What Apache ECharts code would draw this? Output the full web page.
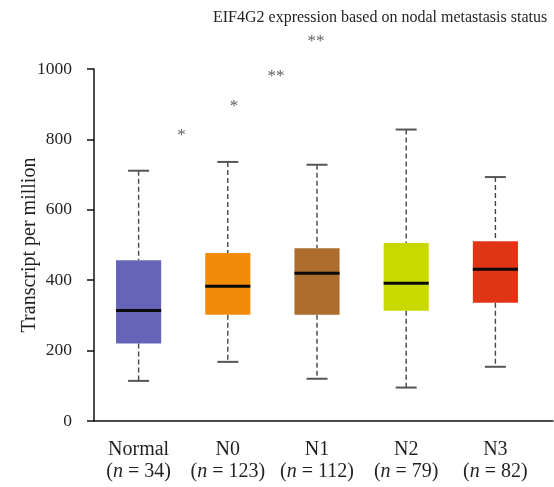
<!DOCTYPE html>
<html>
<head>
<meta charset="utf-8">
<title>EIF4G2 boxplot</title>
<script src="https://cdn.jsdelivr.net/npm/echarts@6/dist/echarts.min.js"></script>
<style>
  html, body { margin: 0; padding: 0; background: #fff; }
  #chart { width: 554px; height: 487px; }
</style>
</head>
<body>
<div id="chart"></div>
<script>
// groups and sample sizes
var groups = ['Normal', 'N0', 'N1', 'N2', 'N3'];
var sampleN = [34, 123, 112, 79, 82];
// whisker low, Q1, median, Q3, whisker high
var lowVals = [114, 168, 120, 95, 154];
var q1Vals = [220, 302, 302, 313, 336];
var medVals = [314, 383, 420, 391, 431];
var q3Vals = [457, 477, 491, 506, 511];
var highVals = [711, 736, 728, 828, 693];
// significance marks: x in category units, y in TPM
var starX = [0.48, 1.07, 1.54, 1.99];
var starY = [812, 892, 980, 1078];
var starText = ['*', '*', '**', '**'];
var yTicks = [0, 200, 400, 600, 800, 1000];

var colors = ['#6664B8', '#F08C07', '#AD6E2D', '#C9D900', '#E03415'];
var serif = '"Liberation Serif", "DejaVu Serif", serif';
var ink = '#231f20';

var boxData = groups.map(function (g, i) {
  return [i, lowVals[i], q1Vals[i], medVals[i], q3Vals[i], highVals[i]];
});
var starData = starX.map(function (x, i) { return [x, starY[i], starText[i]]; });

function renderBox(params, api) {
  var i = api.value(0);
  var lo = api.coord([i, api.value(1)]);
  var q1 = api.coord([i, api.value(2)]);
  var md = api.coord([i, api.value(3)]);
  var q3 = api.coord([i, api.value(4)]);
  var hi = api.coord([i, api.value(5)]);
  var bw = api.size([1, 0])[0] * 0.506;
  var cw = 21;
  var x = lo[0];
  var dash = { stroke: '#444', lineWidth: 1.4, lineDash: [5, 3] };
  var cap = { stroke: '#555', lineWidth: 2 };
  return {
    type: 'group',
    children: [
      { type: 'line', shape: { x1: x, y1: hi[1], x2: x, y2: q3[1] }, style: dash },
      { type: 'line', shape: { x1: x, y1: q1[1], x2: x, y2: lo[1] }, style: dash },
      { type: 'line', shape: { x1: x - cw / 2, y1: hi[1], x2: x + cw / 2, y2: hi[1] }, style: cap },
      { type: 'line', shape: { x1: x - cw / 2, y1: lo[1], x2: x + cw / 2, y2: lo[1] }, style: cap },
      { type: 'rect', shape: { x: x - bw / 2, y: q3[1], width: bw, height: q1[1] - q3[1] },
        style: { fill: colors[i] } },
      { type: 'line', shape: { x1: x - bw / 2, y1: md[1], x2: x + bw / 2, y2: md[1] },
        style: { stroke: '#0a0a0a', lineWidth: 3 } }
    ]
  };
}

var chart = echarts.init(document.getElementById('chart'));
chart.setOption({
  animation: false,
  title: {
    text: 'EIF4G2 expression based on nodal metastasis status',
    left: 208, top: 5,
    textStyle: { fontFamily: serif, fontSize: 16, fontWeight: 'normal', color: ink }
  },
  grid: [
    { left: 94, right: 14, top: 69, bottom: 66 },
    { left: 94, right: 1, top: 69, bottom: 66 }
  ],
  xAxis: [
    {
      type: 'category', gridIndex: 0, data: groups,
      axisLine: { show: false }, axisTick: { show: false },
      axisLabel: {
        margin: 18, interval: 0,
        formatter: function (v, i) {
          return v + '\n{p|(}{i|n}{p| = ' + sampleN[i] + ')}';
        },
        fontFamily: serif, fontSize: 20, color: ink, lineHeight: 22,
        rich: {
          p: { fontFamily: serif, fontSize: 20, color: ink, lineHeight: 22 },
          i: { fontFamily: serif, fontSize: 20, color: ink, fontStyle: 'italic', lineHeight: 22 }
        }
      }
    },
    {
      type: 'value', gridIndex: 1, min: -0.5, max: 4.646,
      axisLine: { show: true, onZero: false, lineStyle: { color: '#111', width: 1.5 } },
      axisTick: { show: false }, axisLabel: { show: false }, splitLine: { show: false }
    }
  ],
  yAxis: [
    {
      type: 'value', gridIndex: 0, min: 0, max: 1000, interval: 200,
      name: 'Transcript per million', nameLocation: 'middle', nameGap: 54,
      nameMoveOverlap: false,
      nameTextStyle: { fontFamily: serif, fontSize: 20, color: ink },
      axisLine: { show: true, lineStyle: { color: '#111', width: 1.5 } },
      axisTick: { show: true, length: 7, lineStyle: { color: '#111', width: 1.5 } },
      axisLabel: { margin: 22, fontFamily: serif, fontSize: 17.5, color: ink,
        formatter: function (v) { return yTicks.indexOf(v) >= 0 ? String(v) : ''; } },
      splitLine: { show: false }
    },
    {
      type: 'value', gridIndex: 1, min: 0, max: 1000, show: false
    }
  ],
  series: [
    {
      type: 'custom', xAxisIndex: 0, yAxisIndex: 0,
      renderItem: renderBox, data: boxData, clip: false
    },
    {
      type: 'scatter', xAxisIndex: 1, yAxisIndex: 1, clip: false,
      symbolSize: 1, itemStyle: { color: 'rgba(0,0,0,0)' },
      label: {
        show: true, position: 'inside',
        formatter: function (p) { return p.value[2]; },
        fontFamily: serif, fontSize: 17, color: '#333'
      },
      data: starData
    }
  ]
});
</script>
</body>
</html>
